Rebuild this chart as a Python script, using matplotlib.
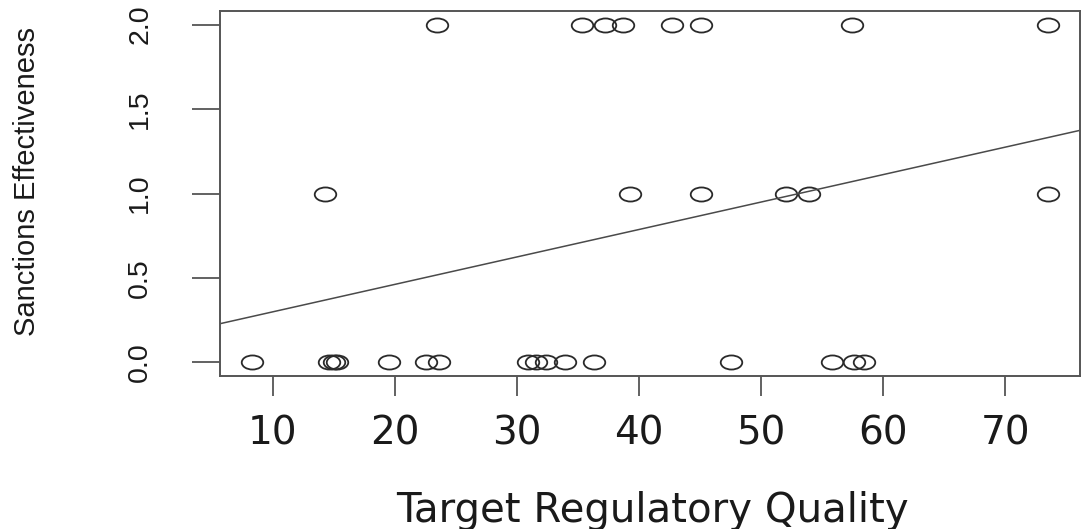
import numpy as np
import matplotlib
matplotlib.use("Agg")
import matplotlib.pyplot as plt
from matplotlib.path import Path
from matplotlib.transforms import Affine2D

# Data
regulatory_quality = [
    # effectiveness 0
    8.3, 14.6, 15.0, 15.3, 19.5, 22.6, 23.6, 30.9, 31.6, 32.4, 33.9, 36.3,
    47.5, 55.8, 57.6, 58.4,
    # effectiveness 1
    14.3, 39.3, 45.1, 52.0, 53.9, 73.5,
    # effectiveness 2
    23.5, 35.3, 37.2, 38.7, 42.7, 45.1, 57.4, 73.5,
]
effectiveness = [0] * 16 + [1] * 6 + [2] * 8
# fitted regression line
fit_intercept = 0.137
fit_slope = 0.01625
x_ticks = [10, 20, 30, 40, 50, 60, 70]
y_ticks = [0.0, 0.5, 1.0, 1.5, 2.0]
y_tick_labels = ["0.0", "0.5", "1.0", "1.5", "2.0"]
x_label = "Target Regulatory Quality"
y_label = "Sanctions Effectiveness"

x = np.array(regulatory_quality, dtype=float)
y = np.array(effectiveness, dtype=float)

W, H = 1083, 529
fig = plt.figure(figsize=(W / 100, H / 100), dpi=100)
ax = fig.add_axes([220 / W, 1 - 376 / H, 860 / W, 365 / H])

# R-style 4% expansion of the data range
xr = x.max() - x.min()
ax.set_xlim(x.min() - 0.04 * xr, x.max() + 0.04 * xr)
ax.set_ylim(-0.08, 2.08)

# ellipse marker (reference is horizontally stretched)
ellipse = Path.unit_circle().transformed(Affine2D().scale(1.53, 1.0))
ax.plot(x, y, linestyle="none", marker=ellipse, markersize=15.5,
        markerfacecolor="none", markeredgecolor="#2a2a2a", markeredgewidth=1.3)

# regression line
ax.axline((0, fit_intercept), slope=fit_slope, color="#4a4a4a", linewidth=1.1)

edge = "#555555"
for s in ax.spines.values():
    s.set_color(edge)
    s.set_linewidth(1.4)

ax.set_xticks(x_ticks)
ax.set_xticklabels([str(t) for t in x_ticks], fontsize=28, family="DejaVu Sans",
                   color="#1a1a1a")
ax.set_yticks(y_ticks)
ax.set_yticklabels(y_tick_labels, fontsize=20.5, rotation=90, va="center",
                   family="Liberation Sans", color="#1a1a1a")
ax.tick_params(axis="x", length=14.5, width=1.3, color=edge, pad=13)
ax.tick_params(axis="y", length=20, width=1.3, color=edge, pad=28)

fig.text(652 / W, 1 - 511 / H, x_label, fontsize=29, family="DejaVu Sans",
         ha="center", va="center", color="#1a1a1a")
fig.text(27 / W, 1 - 182 / H, y_label, fontsize=21, rotation=90,
         family="Liberation Sans", ha="center", va="center", color="#1a1a1a")

fig.savefig("out.png", dpi=100)
